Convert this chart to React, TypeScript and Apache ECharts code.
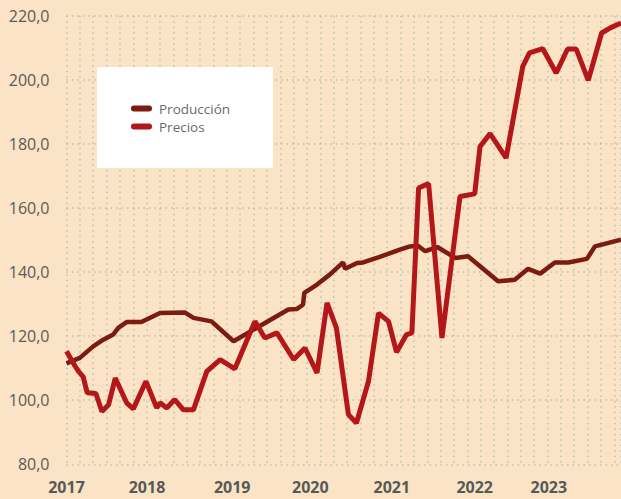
import React, { useEffect, useRef } from "react";
import * as echarts from "echarts";

// x values are months since January 2017
const yearLabels = ["2017", "2018", "2019", "2020", "2021", "2022", "2023"];
const yearLabelPos = [0, 12.05, 24.8, 36.5, 48.7, 61.1, 72.2];

const produccionX = [0, 2.0, 4.0, 5.5, 7.0, 7.75, 9.0, 11.2, 14.0, 17.7, 19.0, 21.7, 25.0, 33.2, 34.5, 35.4, 35.6, 37.5, 39.4, 41.4, 41.7, 43.5, 44.4, 46.9, 49.9, 51.4, 52.6, 53.7, 55.5, 58.2, 60.1, 64.6, 67.1, 69.1, 70.9, 73.1, 75.1, 77.9, 79.1, 83.0];
const produccionY = [111.5, 113.2, 116.8, 118.9, 120.5, 122.6, 124.4, 124.4, 127.2, 127.4, 125.7, 124.6, 118.4, 128.3, 128.5, 129.8, 133.5, 136.1, 139.2, 143.0, 141.0, 142.8, 143.0, 144.7, 147.0, 148.0, 148.2, 146.5, 147.8, 144.4, 144.9, 137.1, 137.6, 141.0, 139.5, 143.0, 143.0, 144.1, 148.0, 150.1];

const preciosX = [0, 1.3, 1.8, 2.5, 3.1, 4.4, 5.3, 6.3, 7.3, 9.0, 10.0, 11.9, 13.5, 14.0, 15.0, 16.2, 17.5, 19.0, 21.0, 23.0, 25.2, 28.2, 29.7, 31.5, 34.0, 35.7, 37.5, 39.0, 40.4, 42.2, 43.4, 45.2, 46.7, 48.2, 49.4, 50.9, 51.7, 52.7, 54.2, 56.2, 58.9, 61.1, 61.9, 63.4, 65.8, 68.3, 69.3, 71.3, 73.3, 75.0, 76.3, 78.1, 80.1, 81.4, 83.0];
const preciosY = [115.3, 110.6, 109.0, 107.3, 102.3, 102.1, 96.5, 98.6, 106.9, 99.2, 97.3, 105.9, 97.6, 99.2, 97.6, 100.2, 97.0, 97.0, 109.0, 112.7, 109.8, 124.6, 119.4, 121.0, 112.7, 116.3, 108.5, 130.4, 122.6, 95.5, 92.9, 105.9, 127.2, 124.6, 115.0, 120.5, 121.0, 166.2, 167.6, 119.4, 163.6, 164.4, 179.2, 183.2, 175.6, 204.2, 208.4, 209.7, 202.1, 209.6, 209.6, 199.8, 214.6, 216.2, 217.7];

const seriesNames = ["Producción", "Precios"];
const seriesColors = ["#7c1b10", "#b3171a"];

const zip = (xs: number[], ys: number[]) => xs.map((x, i) => [x, ys[i]]);

const pill = "path://M3,0 L18,0 A3,3 0 0 1 18,6 L3,6 A3,3 0 0 1 3,0 Z";

export default function App() {
  const ref = useRef<HTMLDivElement>(null);
  useEffect(() => {
    if (!ref.current) return;
    const chart = echarts.init(ref.current, null, { renderer: "svg" });
    const dotted = { color: "#b7c2bc", width: 1.5, type: [1.5, 4] as any };
    chart.setOption({
      animation: false,
      backgroundColor: "#fbe3c6",
      grid: { left: 66.5, right: 0, top: 15.7, bottom: 34.7, containLabel: false },
      xAxis: {
        type: "value",
        min: 0,
        max: 83,
        interval: 2,
        axisLine: { show: false },
        axisTick: { show: false },
        splitLine: { show: true, lineStyle: dotted },
        axisLabel: {
          customValues: yearLabelPos,
          formatter: (v: number) => {
            const i = yearLabelPos.findIndex((p) => Math.abs(p - v) < 0.01);
            return i >= 0 ? yearLabels[i] : "";
          },
          color: "#565a56",
          fontFamily: "Open Sans",
          fontWeight: "bold",
          fontSize: 16,
          margin: 15,
        },
      },
      yAxis: {
        type: "value",
        min: 80,
        max: 220,
        interval: 20,
        axisLine: { show: false },
        axisTick: { show: false },
        splitLine: { show: true, lineStyle: dotted },
        axisLabel: {
          formatter: (v: number) => v.toFixed(1).replace(".", ","),
          color: "#5a5a58",
          fontFamily: "Open Sans",
          fontSize: 16,
          margin: 17,
        },
      },
      legend: {
        orient: "vertical",
        left: 131,
        top: 100,
        itemWidth: 21,
        itemHeight: 6,
        itemGap: 1,
        padding: 0,
        z: 20,
        textStyle: {
          color: "#6a6a6a",
          fontFamily: "Open Sans",
          fontSize: 13.5,
          lineHeight: 17,
          padding: [0, 0, 0, 2],
        },
        data: seriesNames.map((n) => ({ name: n, icon: pill })),
      },
      graphic: [
        {
          type: "rect",
          z: 10,
          shape: { x: 97, y: 67, width: 176, height: 101 },
          style: { fill: "#ffffff" },
        },
      ],
      series: [
        {
          name: seriesNames[0],
          type: "line",
          data: zip(produccionX, produccionY),
          symbol: "none",
          color: seriesColors[0],
          lineStyle: { width: 4.5, color: seriesColors[0] },
        },
        {
          name: seriesNames[1],
          type: "line",
          data: zip(preciosX, preciosY),
          symbol: "none",
          color: seriesColors[1],
          lineStyle: { width: 5, color: seriesColors[1] },
        },
      ],
    });
    return () => chart.dispose();
  }, []);
  return (
    <div
      ref={ref}
      style={{ position: "fixed", left: 0, top: 0, width: 621, height: 499 }}
    />
  );
}
